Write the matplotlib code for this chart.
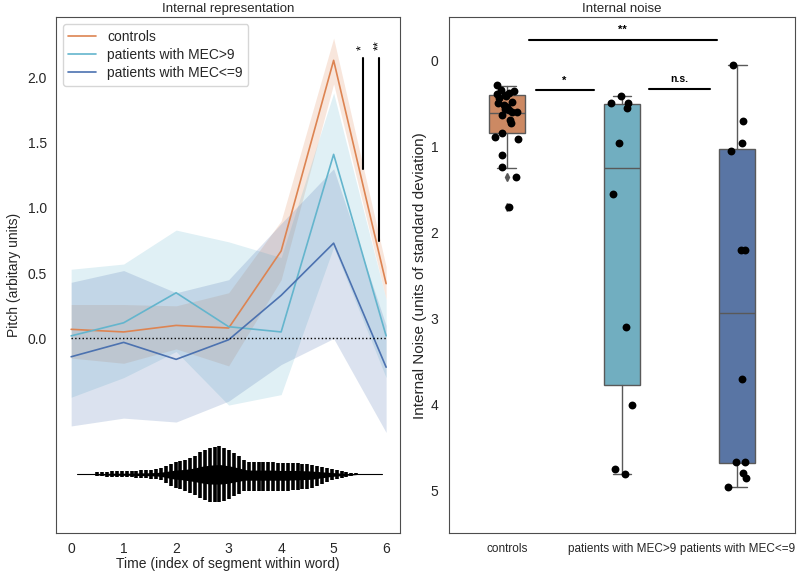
import numpy as np
import matplotlib
matplotlib.use("Agg")
import matplotlib.pyplot as plt
import seaborn as sns

# ---- left panel: pitch contour per segment (mean + CI band) ----
segments = [0, 1, 2, 3, 4, 5, 6]
groups = ["controls", "patients with MEC>9", "patients with MEC<=9"]

ctrl_mean = [0.07, 0.05, 0.10, 0.08, 0.67, 2.13, 0.42]
ctrl_low = [-0.15, -0.19, -0.08, -0.21, 0.45, 1.95, 0.30]
ctrl_high = [0.26, 0.26, 0.25, 0.35, 0.90, 2.30, 0.55]

mec_hi_mean = [0.02, 0.12, 0.35, 0.09, 0.05, 1.41, 0.02]
mec_hi_low = [-0.45, -0.30, -0.10, -0.51, -0.43, 0.70, -0.30]
mec_hi_high = [0.53, 0.57, 0.83, 0.74, 0.62, 1.88, 0.30]

mec_lo_mean = [-0.14, -0.03, -0.16, -0.01, 0.33, 0.73, -0.22]
mec_lo_low = [-0.67, -0.61, -0.64, -0.48, -0.20, 0.00, -0.72]
mec_lo_high = [0.43, 0.52, 0.35, 0.45, 0.88, 1.30, 0.10]

# waveform illustration under the curves (peak heights, px)
wave_up = [2, 2, 2.5, 3, 3, 3, 3, 3, 3.5, 4, 4, 4.5, 5, 6, 8, 10, 12, 13, 14, 16,
           18, 22, 24, 26, 27, 28, 26, 24, 21, 18, 14, 12, 12, 12, 12, 12, 12, 11,
           11, 11, 11, 11, 10, 10, 9, 8, 7, 6, 5, 4, 3, 2, 1.5, 1]
wave_down = [2, 2, 2.5, 3, 3, 3, 3, 3, 3.5, 4, 4, 4.5, 5, 6, 9, 12, 14, 15, 17, 19,
             21, 24, 26, 28, 28, 28, 27, 25, 22, 20, 17, 17, 17, 17, 17, 17, 17, 17,
             17, 17, 16, 16, 15, 15, 14, 12, 10, 8, 6, 5, 4, 3, 2, 1]

# ---- right panel: internal noise ----
ctrl_noise = [0.29, 0.35, 0.36, 0.38, 0.39, 0.40, 0.42, 0.44, 0.48, 0.50, 0.52,
              0.54, 0.56, 0.58, 0.60, 0.60, 0.64, 0.69, 0.73, 0.85, 0.89, 0.91,
              1.10, 1.24, 1.35, 1.70]
mec_hi_noise = [0.41, 0.50, 0.50, 0.55, 0.96, 1.55, 3.10, 4.00, 4.75, 4.80]
mec_lo_noise = [0.05, 0.70, 0.96, 1.05, 2.20, 2.20, 3.70, 4.66, 4.66, 4.79, 4.85, 4.95]

# box summaries as drawn (whisker ends, quartiles, median, fliers)
box_stats = [
    dict(whislo=0.30, q1=0.40, med=0.61, q3=0.85, whishi=1.25, fliers=[1.35, 1.70]),
    dict(whislo=0.41, q1=0.51, med=1.25, q3=3.77, whishi=4.80, fliers=[]),
    dict(whislo=0.05, q1=1.03, med=2.94, q3=4.68, whishi=4.95, fliers=[]),
]

sns.set_style("white")
plt.rcParams["font.family"] = ["Liberation Sans", "DejaVu Sans"]
plt.rcParams["axes.edgecolor"] = "0.3"
plt.rcParams["text.color"] = "0.15"
plt.rcParams["xtick.color"] = "0.15"
plt.rcParams["ytick.color"] = "0.15"

deep = sns.color_palette("deep")
colors = [deep[1], deep[9], deep[0]]

fig = plt.figure(figsize=(7.99, 5.75), dpi=100)
ax1 = fig.add_axes([0.070, 0.073, 0.431, 0.897])
ax2 = fig.add_axes([0.562, 0.073, 0.433, 0.897])

# left
means = [ctrl_mean, mec_hi_mean, mec_lo_mean]
lows = [ctrl_low, mec_hi_low, mec_lo_low]
highs = [ctrl_high, mec_hi_high, mec_lo_high]
for name, m, lo, hi, c in zip(groups, means, lows, highs, colors):
    ax1.fill_between(segments, lo, hi, color=c, alpha=0.2, lw=0)
    ax1.plot(segments, m, color=c, lw=1.2, label=name)

ax1.plot([0, 6], [0, 0], ls=":", color="black", lw=1)

# waveform
base = -1.04
px = 1 / 130.6
t = np.linspace(0.50, 5.43, len(wave_up))
up = np.array(wave_up) * px
down = np.array(wave_down) * px
ax1.plot([0.11, 5.92], [base, base], color="black", lw=0.8)
ax1.vlines(t, base - down, base + up, color="black", lw=2.6)
ax1.fill_between(t, base - down * 0.35, base + up * 0.35, color="black", lw=0)

# significance marks
ax1.plot([5.55, 5.55], [1.30, 2.15], color="black", lw=1.5)
ax1.plot([5.86, 5.86], [0.75, 2.15], color="black", lw=1.5)
ax1.text(5.55, 2.21, "*", rotation=90, ha="center", va="bottom", fontsize=9, color="black")
ax1.text(5.86, 2.21, "**", rotation=90, ha="center", va="bottom", fontsize=9, color="black")

ax1.set_xlim(-0.29, 6.27)
ax1.set_ylim(-1.49, 2.46)
ax1.set_xticks(segments)
ax1.set_yticks([0.0, 0.5, 1.0, 1.5, 2.0])
ax1.tick_params(labelsize=10, pad=3)
ax1.set_xlabel("Time (index of segment within word)", fontsize=10, labelpad=1)
ax1.set_ylabel("Pitch (arbitary units)", fontsize=10, labelpad=5)
ax1.set_title("Internal representation", fontsize=9.5, pad=4)
ax1.legend(loc="upper left", fontsize=10, frameon=True, handlelength=2.0,
           labelspacing=0.3, borderaxespad=0.5)

# right
box_colors = [sns.desaturate(c, 0.75) for c in colors]
bp = ax2.bxp(box_stats, positions=[0, 1, 2], widths=0.31, capwidths=0.16,
             patch_artist=True, showfliers=True,
             boxprops=dict(edgecolor="0.35", lw=1),
             whiskerprops=dict(color="0.35", lw=1),
             capprops=dict(color="0.35", lw=1),
             medianprops=dict(color="0.35", lw=1),
             flierprops=dict(marker="d", markerfacecolor="0.35",
                             markeredgecolor="0.35", markersize=4))
for patch, c in zip(bp["boxes"], box_colors):
    patch.set_facecolor(c)

rng = np.random.default_rng(3)
for i, vals in enumerate([ctrl_noise, mec_hi_noise, mec_lo_noise]):
    xs = i + rng.uniform(-0.1, 0.1, len(vals))
    ax2.scatter(xs, vals, s=32, color="black", zorder=3, lw=0)

# significance bars
ax2.plot([0.19, 1.82], [-0.23, -0.23], color="black", lw=1.5)
ax2.text(1.0, -0.30, "**", ha="center", va="bottom", fontsize=8, fontweight="bold", color="black")
ax2.plot([0.25, 0.76], [0.35, 0.35], color="black", lw=1.5)
ax2.text(0.5, 0.30, "*", ha="center", va="bottom", fontsize=8, fontweight="bold", color="black")
ax2.plot([1.23, 1.76], [0.33, 0.33], color="black", lw=1.5)
ax2.text(1.5, 0.27, "n.s.", ha="center", va="bottom", fontsize=7.5, fontweight="bold", color="black")

ax2.set_xlim(-0.5, 2.5)
ax2.set_ylim(5.49, -0.5)
ax2.set_xticks([0, 1, 2])
ax2.set_xticklabels(groups, fontsize=8.5)
ax2.set_yticks([0, 1, 2, 3, 4, 5])
ax2.tick_params(axis="y", labelsize=10, pad=4)
ax2.tick_params(axis="x", pad=4)
ax2.set_ylabel("Internal Noise (units of standard deviation)", fontsize=11, labelpad=3)
ax2.set_title("Internal noise", fontsize=9.5, pad=4)

fig.savefig("out.png", dpi=100)
